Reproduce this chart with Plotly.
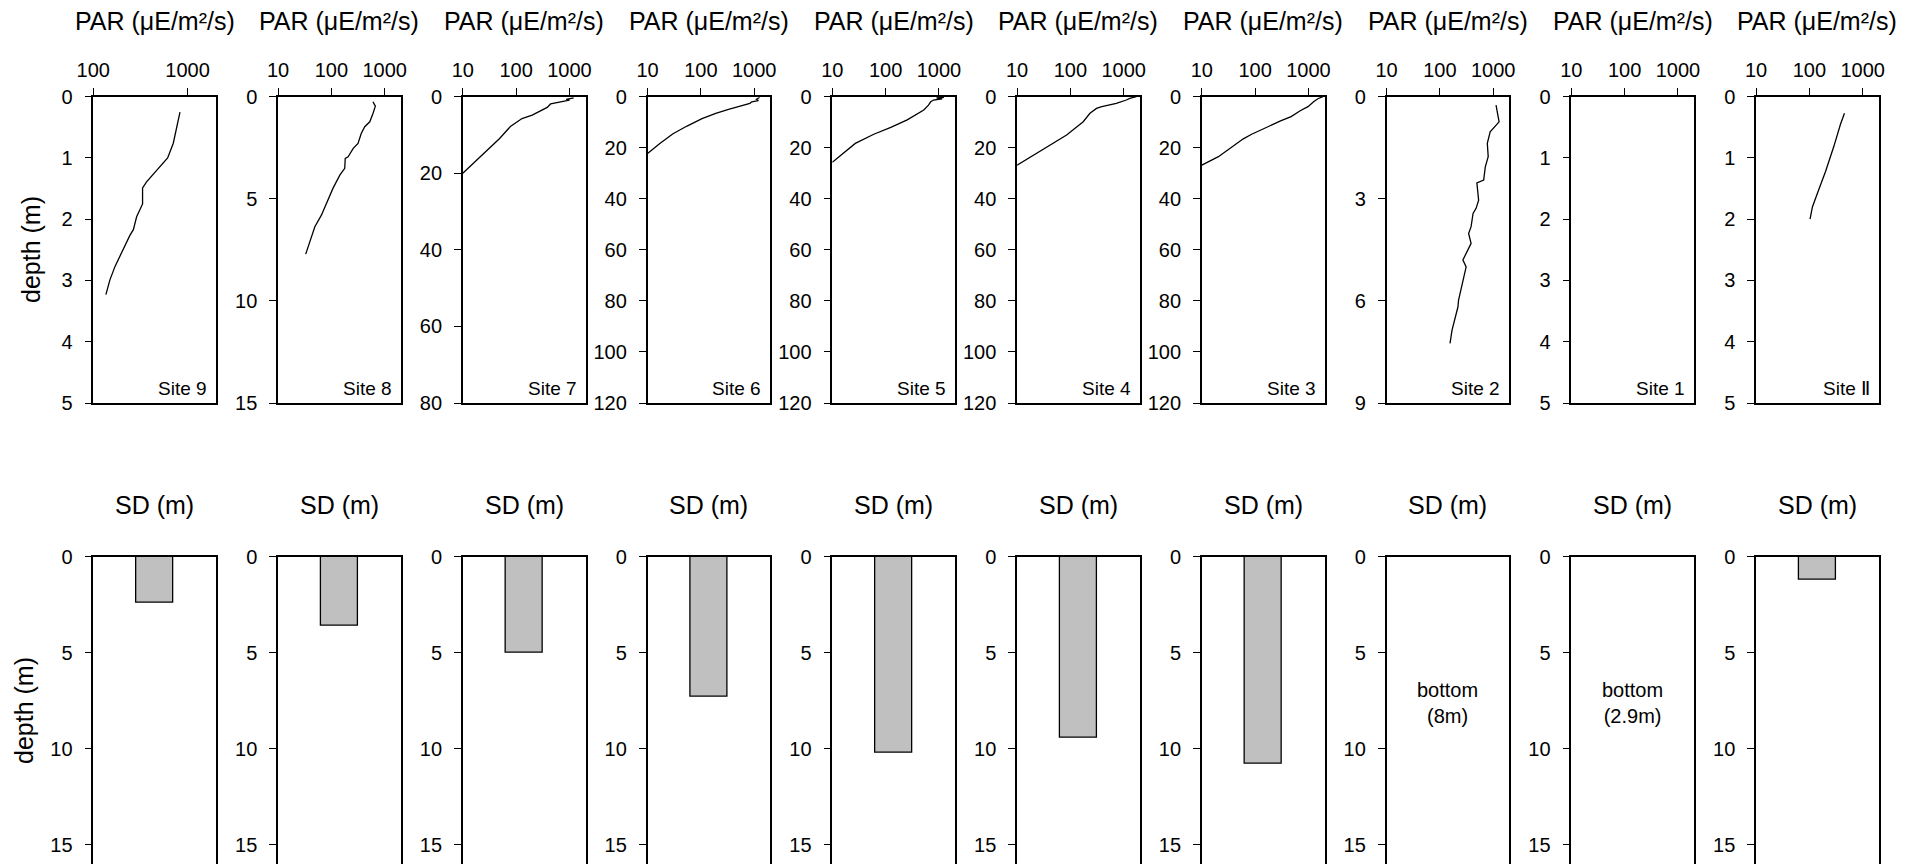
import math
import plotly.graph_objects as go

# ---------------- data ----------------
site_names = ["Site 9", "Site 8", "Site 7", "Site 6", "Site 5",
              "Site 4", "Site 3", "Site 2", "Site 1", "Site \u2161"]
par_xmin = [100, 10, 10, 10, 10, 10, 10, 10, 10, 10]
par_xmax = 2000
par_ticks = [[100, 1000]] + [[10, 100, 1000]] * 9
depth_max = [5, 15, 80, 120, 120, 120, 120, 9, 5, 5]
depth_dtick = [1, 5, 20, 20, 20, 20, 20, 3, 1, 1]

site9_depth = [0.25, 0.52, 0.76, 1.0, 1.14, 1.25, 1.39, 1.49, 1.75, 1.96, 2.17, 2.26, 2.5, 2.77, 2.99, 3.23]
site9_par = [830, 764, 705, 614, 509, 433, 367, 333, 333, 288, 266, 245, 208, 170, 150, 136]

site8_depth = [0.25, 0.46, 0.82, 1.23, 1.47, 1.8, 2.29, 2.53, 2.94, 3.02, 3.51, 3.84, 4.49, 5.07, 5.8, 6.37, 7.03, 7.71]
site8_par = [603, 668, 603, 525, 422, 363, 316, 257, 206, 182, 178, 144, 107, 87, 65, 49, 41, 33]

site7_depth = [0.3, 0.7, 0.9, 1.3, 1.7, 1.9, 2.8, 3.9, 4.8, 5.7, 7.8, 10.9, 15.7, 20.0]
site7_par = [1200, 870, 1000, 730, 570, 443, 383, 268, 200, 129, 78, 49, 21, 10]

site6_depth = [0.3, 1.0, 1.5, 2.0, 2.6, 3.4, 4.0, 5.0, 6.5, 8.6, 11.5, 14.5, 18.3, 22.3]
site6_par = [1260, 1100, 1200, 900, 830, 590, 520, 330, 190, 105, 55, 30, 17, 10]

site5_depth = [0.25, 0.5, 0.8, 1.0, 1.3, 2.0, 3.3, 5.2, 9.1, 12.0, 14.7, 18.3, 22.2, 25.7]
site5_par = [1240, 900, 1150, 850, 794, 700, 636, 519, 254, 125, 60, 27, 16, 10]

site4_depth = [0.0, 0.65, 1.3, 2.6, 3.9, 4.6, 6.5, 9.8, 15.0, 18.9, 22.8, 26.8]
site4_par = [1730, 1300, 1120, 728, 388, 309, 233, 174, 85, 41.5, 20.5, 10]

site3_depth = [0.0, 0.8, 2.0, 3.9, 5.5, 7.8, 9.5, 11.7, 13.0, 14.7, 16.5, 18.9, 21.0, 23.5, 26.8]
site3_par = [1870, 1500, 1250, 980, 700, 474, 300, 176, 130, 86, 60, 42, 30, 20.5, 10]

site2_depth = [0.25, 0.74, 1.03, 1.37, 1.76, 2.06, 2.45, 2.53, 3.04, 3.28, 3.43, 3.82, 4.02, 4.31, 4.8, 5.0, 5.98, 6.18, 6.86, 7.25]
site2_par = [1130, 1290, 877, 776, 806, 711, 663, 494, 533, 478, 419, 385, 346, 385, 270, 311, 224, 218, 169, 155]

site1_depth = []
site1_par = []

siteII_depth = [0.27, 0.45, 0.81, 1.22, 1.58, 1.8, 2.0]
siteII_par = [455, 383, 288, 201, 141, 114, 103]

profiles_depth = [site9_depth, site8_depth, site7_depth, site6_depth, site5_depth,
                  site4_depth, site3_depth, site2_depth, site1_depth, siteII_depth]
profiles_par = [site9_par, site8_par, site7_par, site6_par, site5_par,
                site4_par, site3_par, site2_par, site1_par, siteII_par]

sd_values = [2.4, 3.6, 5.0, 7.3, 10.2, 9.4, 10.8, None, None, 1.2]
sd_notes = [None, None, None, None, None, None, None, "bottom<br>(8m)", "bottom<br>(2.9m)", None]
sd_note_depth = 7.6
sd_depth_max = 16
sd_ticks = [0, 5, 10, 15]

par_title = "PAR (\u03bcE/m\u00b2/s)"
sd_title = "SD (m)"
depth_title = "depth (m)"

# ---------------- layout geometry (window pixels) ----------------
# The page body has an 8px margin, so the figure is drawn 8px in from the
# window's top-left corner; positions below are given in window pixels.
OFF = 8
WIN_W, WIN_H = 1925, 864
W, H = WIN_W - OFF, WIN_H - OFF
left0, step, pw = 93.3, 184.75, 122.7
top_t, top_b = 96.7, 403.0
bot_t = 556.7

FONT = "Arial, Liberation Sans, sans-serif"
LW = 1.5
TICKFONT = dict(family=FONT, size=20, color="black")


def px(x):
    return (x - OFF) / W


def py(y):
    return 1 - (y - OFF) / H


fig = go.Figure()
layout = {}
annotations = []

for i in range(10):
    x0 = left0 + step * i
    x1 = x0 + pw
    kt = 2 * i + 1      # top axis index
    kb = 2 * i + 2      # bottom axis index
    xt = "x" if kt == 1 else f"x{kt}"
    yt = "y" if kt == 1 else f"y{kt}"
    xb, yb = f"x{kb}", f"y{kb}"

    # ---- top row (PAR profile) ----
    fig.add_trace(go.Scatter(
        x=profiles_par[i], y=profiles_depth[i], mode="lines",
        line=dict(color="black", width=1.3), xaxis=xt, yaxis=yt,
        showlegend=False, hoverinfo="skip"))
    layout["xaxis" if kt == 1 else f"xaxis{kt}"] = dict(
        domain=[px(x0), px(x1)], anchor=yt, side="top", type="log",
        range=[math.log10(par_xmin[i]), math.log10(par_xmax)],
        tickmode="array", tickvals=par_ticks[i], ticktext=[str(v) for v in par_ticks[i]],
        ticks="outside", ticklen=7, tickwidth=1.3, tickcolor="black",
        showline=True, linecolor="black", linewidth=LW, mirror=True,
        showgrid=False, zeroline=False, automargin=False,
        tickfont=TICKFONT, ticklabelstandoff=3)
    layout["yaxis" if kt == 1 else f"yaxis{kt}"] = dict(
        domain=[py(top_b), py(top_t)], anchor=xt,
        range=[depth_max[i], 0], tickmode="linear", tick0=0, dtick=depth_dtick[i],
        ticks="outside", ticklen=7, tickwidth=1.3, tickcolor="black",
        showline=True, linecolor="black", linewidth=LW, mirror=True,
        showgrid=False, zeroline=False, automargin=False,
        tickfont=TICKFONT, ticklabelstandoff=8)

    annotations.append(dict(
        text=par_title, x=px((x0 + x1) / 2), y=py(21), xref="paper", yref="paper",
        xanchor="center", yanchor="middle", showarrow=False,
        font=dict(family=FONT, size=25, color="black")))
    annotations.append(dict(
        text=site_names[i], x=px(x1 - 7), y=py(389), xref="paper", yref="paper",
        xanchor="right", yanchor="middle", showarrow=False,
        font=dict(family=FONT, size=19, color="black")))

    # ---- bottom row (Secchi depth) ----
    if sd_values[i] is not None:
        fig.add_trace(go.Bar(
            x=[0.5], y=[sd_values[i]], width=[0.3], base=0,
            marker=dict(color="#c0c0c0", line=dict(color="black", width=1.3)),
            xaxis=xb, yaxis=yb, showlegend=False, hoverinfo="skip"))
    else:
        fig.add_trace(go.Scatter(x=[None], y=[None], xaxis=xb, yaxis=yb,
                                 showlegend=False, hoverinfo="skip"))
    layout[f"xaxis{kb}"] = dict(
        domain=[px(x0), px(x1)], anchor=yb, side="top", range=[0, 1],
        showticklabels=False, ticks="", showline=True, linecolor="black",
        linewidth=2, mirror=False, showgrid=False, zeroline=False,
        automargin=False, fixedrange=True)
    layout[f"yaxis{kb}"] = dict(
        domain=[0, py(bot_t)], anchor=xb, range=[sd_depth_max, 0],
        tickmode="array", tickvals=sd_ticks, ticktext=[str(v) for v in sd_ticks],
        ticks="outside", ticklen=7, tickwidth=1.3, tickcolor="black",
        showline=True, linecolor="black", linewidth=LW, mirror=True,
        showgrid=False, zeroline=False, automargin=False,
        tickfont=TICKFONT, ticklabelstandoff=8)
    annotations.append(dict(
        text=sd_title, x=px((x0 + x1) / 2), y=py(505), xref="paper", yref="paper",
        xanchor="center", yanchor="middle", showarrow=False,
        font=dict(family=FONT, size=25, color="black")))
    if sd_notes[i]:
        annotations.append(dict(
            text=sd_notes[i], x=0.5, y=sd_note_depth, xref=xb, yref=yb,
            xanchor="center", yanchor="middle", showarrow=False,
            font=dict(family=FONT, size=20, color="black")))

annotations.append(dict(
    text=depth_title, x=px(31), y=py(250), xref="paper", yref="paper",
    xanchor="center", yanchor="middle", textangle=-90, showarrow=False,
    font=dict(family=FONT, size=25, color="black")))
annotations.append(dict(
    text=depth_title, x=px(8), y=py(711), xref="paper", yref="paper",
    xanchor="left", yanchor="middle", textangle=-90, showarrow=False,
    font=dict(family=FONT, size=25, color="black")))

fig.update_layout(
    template="none",
    width=W, height=H, margin=dict(l=0, r=0, t=0, b=0, pad=0, autoexpand=False),
    paper_bgcolor="white", plot_bgcolor="white", showlegend=False,
    annotations=annotations, bargap=0, **layout)

fig.write_html("out.html")
